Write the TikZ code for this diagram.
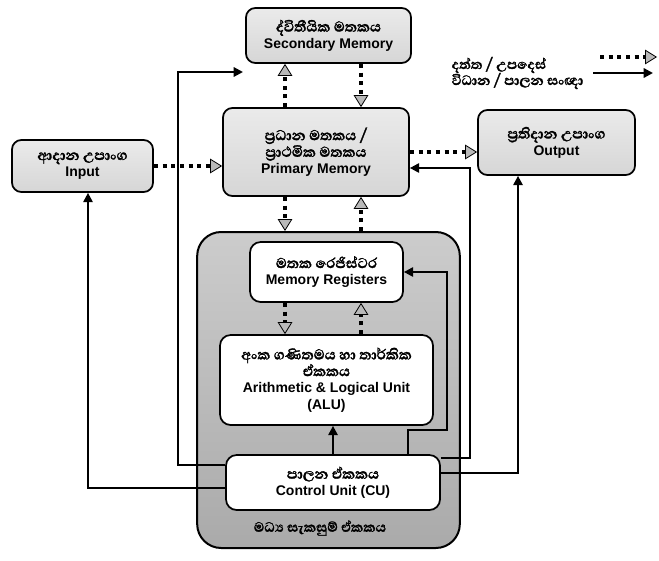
\documentclass[tikz,border=0pt]{standalone}
\usepackage{fontspec}
\setmainfont{Liberation Sans}
\newfontfamily\sinfont[Script=Sinhala,Scale=1.3,FakeBold=1.5]{Abhaya Libre}
\usetikzlibrary{arrows.meta}

\definecolor{boxgray}{RGB}{214,214,214}
\definecolor{cpugray}{RGB}{170,170,170}

\begin{document}
\begin{tikzpicture}[x=0.75pt,y=-0.75pt,
	unit/.style={draw,line width=1.3pt,rounded corners=7pt,top color=boxgray!50,bottom color=boxgray,align=center,font=\bfseries\fontsize{10.5}{12.5}\selectfont,inner sep=2pt},
	inner/.style={draw,line width=1.3pt,rounded corners=8pt,fill=white,align=center,font=\bfseries\fontsize{10.5}{12.5}\selectfont,inner sep=2pt},
	data/.style={line width=3pt,dash pattern=on 3pt off 3.5pt,-{Triangle[length=9pt,width=11pt,fill=gray!55,color=black,line width=0.6pt]}},
	ctrl/.style={line width=1.6pt,-{Triangle[length=7pt,width=7pt]}}]
\useasboundingbox (0,0) rectangle (659,560);

% central processing unit
\node at (328.5,390) (cpu) [draw,line width=1.5pt,rounded corners=18pt,top color=cpugray!60,bottom color=cpugray,minimum width=197pt,minimum height=237pt] {};
\node at (320,528) (cpulbl) [font=\bfseries\fontsize{10}{11}\selectfont] {\sinfont මධ්^^^^200dය සැකසුම් ඒකකය};

% units
\node at (328.5,35.5) (sec) [unit,minimum width=123.75pt,minimum height=41.25pt] {{\sinfont ද්විතීයික මතකය}\\Secondary Memory};
\node at (316,152) (prim) [unit,minimum width=139.5pt,minimum height=66pt] {{\sinfont ප්^^^^200dරධාන මතකය /}\\{\sinfont ප්^^^^200dරාථමික මතකය}\\Primary Memory};
\node at (82.5,166) (in) [unit,minimum width=105.75pt,minimum height=39pt] {{\sinfont ආදාන උපාංග}\\Input};
\node at (556.5,142.5) (out) [unit,minimum width=117.75pt,minimum height=48.75pt] {{\sinfont ප්^^^^200dරතිදාන උපාංග}\\Output};
\node at (326.5,272) (reg) [inner,minimum width=114.75pt,minimum height=45pt] {{\sinfont මතක රෙජිස්ටර}\\Memory Registers};
\node at (326.5,380) (alu) [inner,minimum width=159.75pt,minimum height=67.5pt] {{\sinfont අංක ගණිතමය හා තාර්කික}\\{\sinfont ඒකකය}\\Arithmetic \& Logical Unit\\(ALU)};
\node at (333,482.5) (cu) [inner,minimum width=160.5pt,minimum height=41.25pt] {{\sinfont පාලන ඒකකය}\\Control Unit (CU)};

% legend
\node at (447,65) (lgdata) [anchor=west,font=\bfseries\fontsize{10}{11}\selectfont] {\sinfont දත්ත / උපදෙස්};
\node at (447,81) (lgctrl) [anchor=west,font=\bfseries\fontsize{10}{11}\selectfont] {\sinfont විධාන / පාලන සංඥා};
\coordinate (d1) at (600,57);
\coordinate (d2) at (657,57);
\coordinate (c1) at (593,73);
\coordinate (c2) at (653,73);
\draw[data] (d1) -- (d2);
\draw[ctrl] (c1) -- (c2);

% data paths
\coordinate (dl) at (285,0);
\coordinate (dr) at (361,0);
\draw[data] (in.east) -- (in.east -| prim.west);
\draw[data] (prim.east) -- (prim.east -| out.west);
\draw[data] (prim.north -| dl) -- (sec.south -| dl);
\draw[data] (sec.south -| dr) -- (prim.north -| dr);
\draw[data] (prim.south -| dl) -- (cpu.north -| dl);
\draw[data] (cpu.north -| dr) -- (prim.south -| dr);
\draw[data] (reg.south -| dl) -- (alu.north -| dl);
\draw[data] (alu.north -| dr) -- (reg.south -| dr);

% control signals
\coordinate (r1) at (408,430);
\coordinate (r2) at (447,430);
\coordinate (p1) at (470,458);
\coordinate (p2) at (470,168);
\coordinate (o1) at (518,473);
\coordinate (s1) at (178,465);
\coordinate (s2) at (178,72);
\coordinate (s3) at (243,72);
\coordinate (i1) at (88,488);
\draw[ctrl] (cu.north) -- (cu.north |- alu.south);
\draw[ctrl] (cu.north -| r1) -- (r1) -- (r2) |- (reg.east);
\draw[ctrl] (cu.east |- p1) -- (p1) -- (p2) -- (prim.east |- p2);
\draw[ctrl] (cu.east |- o1) -- (o1) -- (o1 |- out.south);
\draw[ctrl] (cu.west |- s1) -- (s1) -- (s2) -- (s3);
\draw[ctrl] (cu.west |- i1) -- (i1) -- (i1 |- in.south);
\end{tikzpicture}
\end{document}
